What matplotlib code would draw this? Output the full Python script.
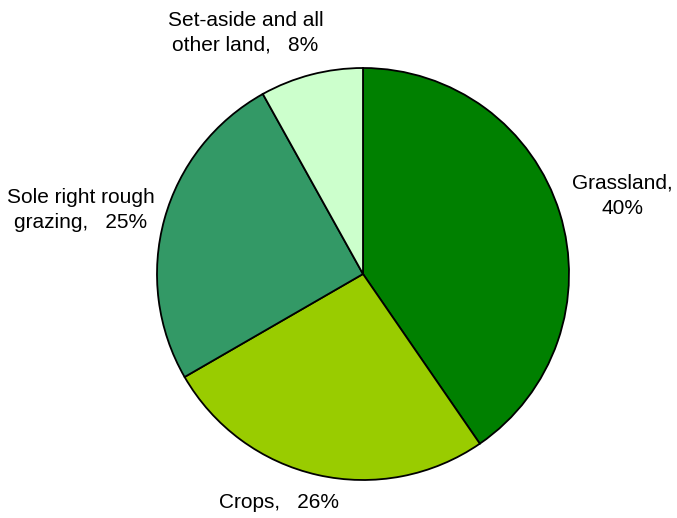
import matplotlib.pyplot as plt

# land use shares, clockwise from the top
labels = ["Grassland,\n40%", "Crops,   26%", "Sole right rough\ngrazing,   25%",
          "Set-aside and all\nother land,   8%"]
shares = [40, 26, 25, 8]
colours = ["#008000", "#99CC00", "#339966", "#CCFFCC"]
label_xy = [(1.26, 0.38), (-0.41, -1.11), (-1.37, 0.31), (-0.57, 1.17)]

W, H = 677, 518
cx, cy, r = 363, 274, 206

fig = plt.figure(figsize=(W / 100, H / 100), dpi=100)
ax = fig.add_axes([0, 0, 1, 1])
ax.axis("off")

ax.pie(shares, colors=colours, startangle=90, counterclock=False, radius=1,
       wedgeprops=dict(edgecolor="black", linewidth=1.3))
ax.set_xlim(-cx / r, (W - cx) / r)
ax.set_ylim((cy - H) / r, cy / r)

for lab, (x, y) in zip(labels, label_xy):
    ax.text(x, y, lab, ha="center", va="center", fontsize=15,
            family="Liberation Sans", linespacing=1.4)

fig.savefig("out.png", dpi=100)
